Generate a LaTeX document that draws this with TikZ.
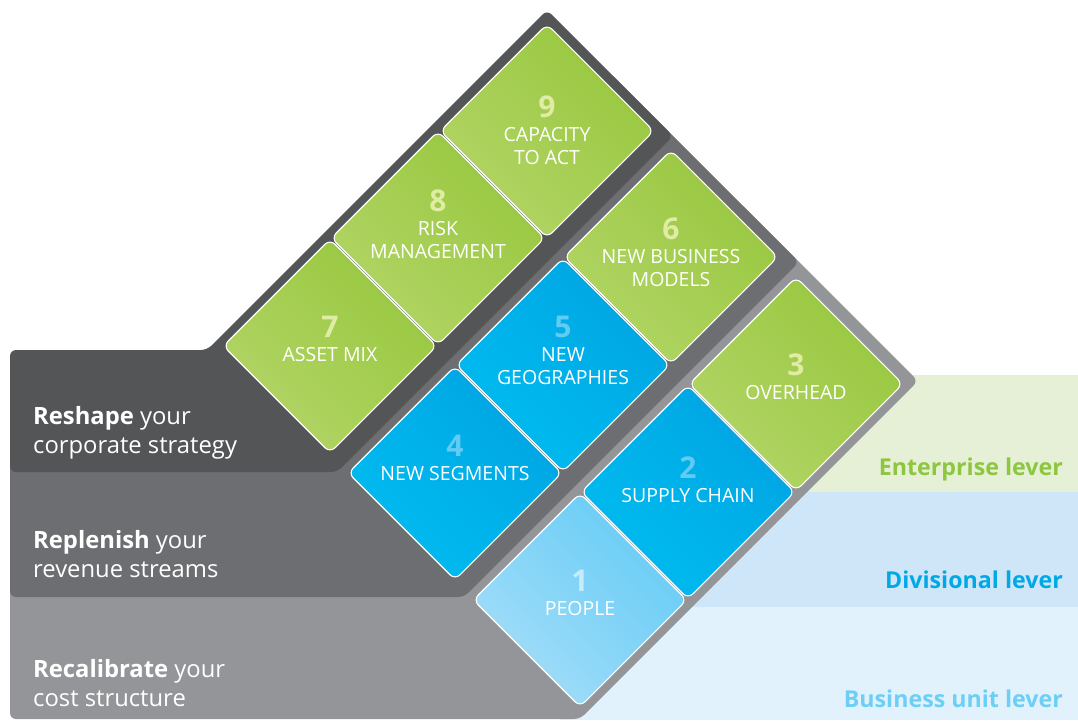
\documentclass[tikz,border=0pt]{standalone}
\usepackage{fontspec}
\setmainfont{Open Sans}
\usetikzlibrary{shapes.geometric, positioning}

\definecolor{greenL}{HTML}{B2D566}
\definecolor{greenD}{HTML}{98C73F}
\definecolor{greenNum}{HTML}{E0EBA4}
\definecolor{blueL}{HTML}{00BCF1}
\definecolor{blueD}{HTML}{00A5E2}
\definecolor{blueNum}{HTML}{62CBF3}
\definecolor{paleL}{HTML}{A3DDF9}
\definecolor{paleD}{HTML}{66CCF5}
\definecolor{paleNum}{HTML}{C6EBFB}
\definecolor{darkband}{HTML}{545557}
\definecolor{midband}{HTML}{6D6E71}
\definecolor{lightband}{HTML}{939598}
\definecolor{entband}{HTML}{E6F0D6}
\definecolor{divband}{HTML}{CFE6F8}
\definecolor{buband}{HTML}{E1F2FC}
\definecolor{entText}{HTML}{8DC63F}
\definecolor{divText}{HTML}{00A9E6}
\definecolor{buText}{HTML}{6DCFF6}

\tikzset{
  tile/.style={diamond, minimum width=214, minimum height=214, inner sep=0pt,
    rounded corners=7pt, draw=white, line width=1.1pt},
  green tile/.style={tile, left color=greenL, right color=greenD, shading angle=135},
  blue tile/.style={tile, left color=blueL, right color=blueD, shading angle=135},
  pale tile/.style={tile, left color=paleL, right color=paleD, shading angle=135},
  green num/.style={text=greenNum},
  blue num/.style={text=blueNum},
  pale num/.style={text=paleNum},
  numtext/.style={font=\bfseries\fontsize{30}{30}\selectfont, inner sep=0pt},
  tiletext/.style={font=\fontsize{19.5}{23}\selectfont, text=white, align=center,
    anchor=north, inner sep=0pt},
  lefttext/.style={font=\fontsize{23.8}{29}\selectfont, text=white, anchor=base west, inner sep=0pt},
  levertext/.style={font=\bfseries\fontsize{23.2}{27}\selectfont, anchor=base east, inner sep=0pt},
}

\begin{document}
\begin{tikzpicture}[x=1pt, y=-1pt]
  \useasboundingbox (0,0) rectangle (1078,720);

  % lever bands on the right
  \fill[entband] (800,375) rectangle (1078,492);
  \fill[divband] (680,492) rectangle (1078,607);
  \fill[buband] (560,607) rectangle (1078,720);

  % grey bands
  \fill[lightband, rounded corners=6pt] (10,560) -- (10,719) -- (580,719) -- (918,381)
    -- (740,203) -- (400,543) -- cycle;
  \fill[midband, rounded corners=6pt] (10,430) -- (10,597) -- (464,597) -- (799,262)
    -- (610,73) -- (300,383) -- cycle;
  \fill[darkband, rounded corners=6pt] (10,472) -- (10,350) -- (207,350) -- (547,10)
    -- (673,136) -- (337,472) -- cycle;

  % tiles
  \foreach \n/\cx/\cy/\kind/\ny/\txt in {
      7/330/346/green/327/{ASSET MIX},
      8/438/238/green/201/{RISK\\MANAGEMENT},
      9/547/131/green/107/{CAPACITY\\TO ACT},
      4/455/473/blue/446/{NEW SEGMENTS},
      5/563/365/blue/327/{NEW\\GEOGRAPHIES},
      6/671/257/green/229/{NEW BUSINESS\\MODELS},
      1/580/600/pale/581/{PEOPLE},
      2/688/492/blue/468/{SUPPLY CHAIN},
      3/796/384/green/365/{OVERHEAD}}
  {
    \node[\kind\space tile] (tile\n) at (\cx,\cy) {};
    \node[numtext, \kind\space num] (num\n) at (\cx,\ny) {\n};
    \node[tiletext] (lab\n) at (\cx,\ny+20) {\txt};
  }

  % strategy labels
  \node[lefttext] (reshape) at (33,424) {\textbf{Reshape} your};
  \node[lefttext] (reshapeb) at (33,453) {corporate strategy};
  \node[lefttext] (replenish) at (33,548) {\textbf{Replenish} your};
  \node[lefttext] (replenishb) at (33,577) {revenue streams};
  \node[lefttext] (recalibrate) at (33,677) {\textbf{Recalibrate} your};
  \node[lefttext] (recalibrateb) at (33,706) {cost structure};

  % lever labels
  \node[levertext, text=entText] (enterprise) at (1063,475) {Enterprise lever};
  \node[levertext, text=divText] (divisional) at (1063,588) {Divisional lever};
  \node[levertext, text=buText] (busunit) at (1063,707) {Business unit lever};
\end{tikzpicture}
\end{document}
